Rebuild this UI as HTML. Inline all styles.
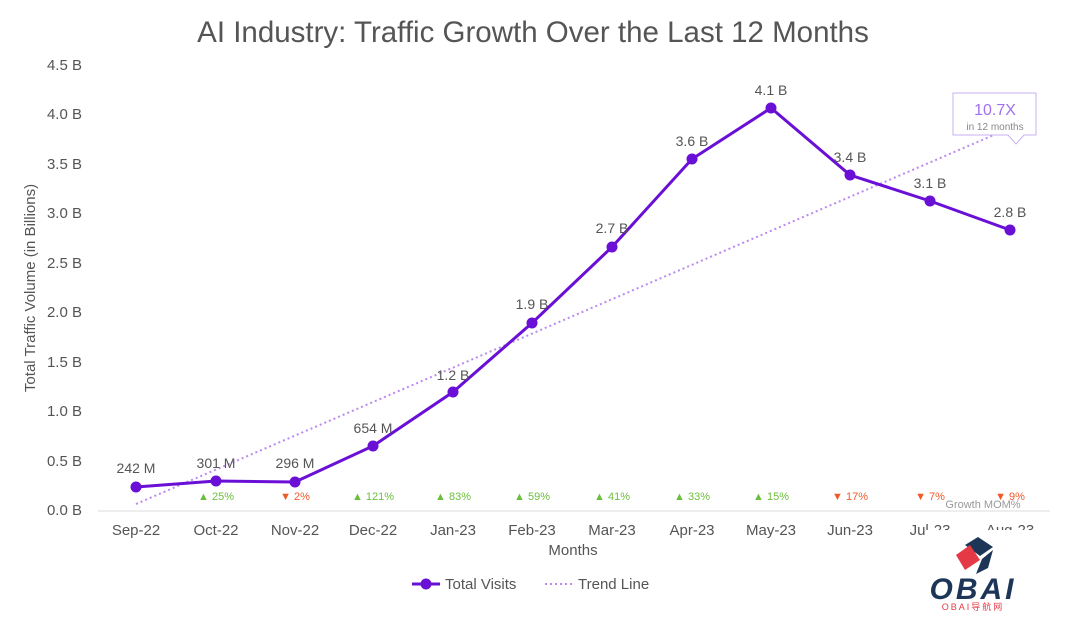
<!DOCTYPE html>
<html><head><meta charset="utf-8"><style>
body{margin:0;background:#fff;}
svg{display:block;font-family:"Liberation Sans","Noto Sans CJK SC",sans-serif;}
</style></head><body>
<svg width="1080" height="620" viewBox="0 0 1080 620">
<text x="533" y="42" text-anchor="middle" font-size="29.5" fill="#555">AI Industry: Traffic Growth Over the Last 12 Months</text>
<g font-size="15" fill="#555" text-anchor="end">
<text x="82" y="515">0.0 B</text><text x="82" y="466">0.5 B</text><text x="82" y="416">1.0 B</text>
<text x="82" y="367">1.5 B</text><text x="82" y="317">2.0 B</text><text x="82" y="268">2.5 B</text>
<text x="82" y="218">3.0 B</text><text x="82" y="169">3.5 B</text><text x="82" y="119">4.0 B</text><text x="82" y="70">4.5 B</text>
</g>
<text transform="translate(35,288) rotate(-90)" text-anchor="middle" font-size="15" fill="#555">Total Traffic Volume (in Billions)</text>
<line x1="98" y1="511" x2="1050" y2="511" stroke="#ddd" stroke-width="1"/>
<g font-size="15" fill="#555" text-anchor="middle">
<text x="136" y="535">Sep-22</text><text x="216" y="535">Oct-22</text><text x="295" y="535">Nov-22</text>
<text x="373" y="535">Dec-22</text><text x="453" y="535">Jan-23</text><text x="532" y="535">Feb-23</text>
<text x="612" y="535">Mar-23</text><text x="692" y="535">Apr-23</text><text x="771" y="535">May-23</text>
<text x="850" y="535">Jun-23</text><text x="930" y="535">Jul-23</text><text x="1010" y="535">Aug-23</text>
</g>
<text x="573" y="555" text-anchor="middle" font-size="15" fill="#555">Months</text>
<line x1="136" y1="504" x2="1010" y2="128" stroke="#b98af0" stroke-width="2" stroke-dasharray="2,3"/>
<polyline fill="none" stroke="#6a0fd6" stroke-width="3" points="136,487 216,481 295,482 373,446 453,392 532,323 612,247 692,159 771,108 850,175 930,201 1010,230"/>
<g fill="#6a0fd6">
<circle cx="136" cy="487" r="5.5"/><circle cx="216" cy="481" r="5.5"/><circle cx="295" cy="482" r="5.5"/>
<circle cx="373" cy="446" r="5.5"/><circle cx="453" cy="392" r="5.5"/><circle cx="532" cy="323" r="5.5"/>
<circle cx="612" cy="247" r="5.5"/><circle cx="692" cy="159" r="5.5"/><circle cx="771" cy="108" r="5.5"/>
<circle cx="850" cy="175" r="5.5"/><circle cx="930" cy="201" r="5.5"/><circle cx="1010" cy="230" r="5.5"/>
</g>
<g font-size="14" fill="#555" text-anchor="middle">
<text x="136" y="473">242 M</text><text x="216" y="468">301 M</text><text x="295" y="468">296 M</text>
<text x="373" y="433">654 M</text><text x="453" y="380">1.2 B</text><text x="532" y="309">1.9 B</text>
<text x="612" y="233">2.7 B</text><text x="692" y="146">3.6 B</text><text x="771" y="95">4.1 B</text>
<text x="850" y="162">3.4 B</text><text x="930" y="188">3.1 B</text><text x="1010" y="217">2.8 B</text>
</g>
<g font-size="11" text-anchor="middle">
<text x="216" y="500" fill="#6cbf3c">▲ 25%</text><text x="295" y="500" fill="#f05a28">▼ 2%</text>
<text x="373" y="500" fill="#6cbf3c">▲ 121%</text><text x="453" y="500" fill="#6cbf3c">▲ 83%</text>
<text x="532" y="500" fill="#6cbf3c">▲ 59%</text><text x="612" y="500" fill="#6cbf3c">▲ 41%</text>
<text x="692" y="500" fill="#6cbf3c">▲ 33%</text><text x="771" y="500" fill="#6cbf3c">▲ 15%</text>
<text x="850" y="500" fill="#f05a28">▼ 17%</text><text x="930" y="500" fill="#f05a28">▼ 7%</text>
<text x="1010" y="500" fill="#f05a28">▼ 9%</text>
</g>
<text x="983" y="508" text-anchor="middle" font-size="11" fill="#999">Growth MOM%</text>
<path d="M953,93 H1036 V135 H1024 L1016,144 L1008,135 H953 Z" fill="#fff" stroke="#c9b0f0" stroke-width="1"/>
<text x="995" y="115" text-anchor="middle" font-size="16" fill="#a070f0">10.7X</text>
<text x="995" y="130" text-anchor="middle" font-size="10" fill="#888">in 12 months</text>
<line x1="412" y1="584" x2="440" y2="584" stroke="#6a0fd6" stroke-width="3"/>
<circle cx="426" cy="584" r="5.5" fill="#6a0fd6"/>
<text x="445" y="589" font-size="15" fill="#555">Total Visits</text>
<line x1="545" y1="584" x2="573" y2="584" stroke="#b98af0" stroke-width="2" stroke-dasharray="2,3"/>
<text x="578" y="589" font-size="15" fill="#555">Trend Line</text>
<rect x="925" y="530" width="125" height="90" fill="#fff"/>
<polygon points="965,545 978,537 993,547 980,556" fill="#1d3557"/>
<polygon points="956,555 970,545 980,560 965,570" fill="#e63946"/>
<polygon points="982,559 993,550 988,568 976,574" fill="#1d3557"/>
<text x="973" y="599" text-anchor="middle" font-size="30" font-weight="bold" font-style="italic" fill="#1d3557" letter-spacing="3">OBAI</text>
<text x="973" y="610" text-anchor="middle" font-size="9" fill="#e63946" letter-spacing="2">OBAI导航网</text>
</svg>
</body></html>
